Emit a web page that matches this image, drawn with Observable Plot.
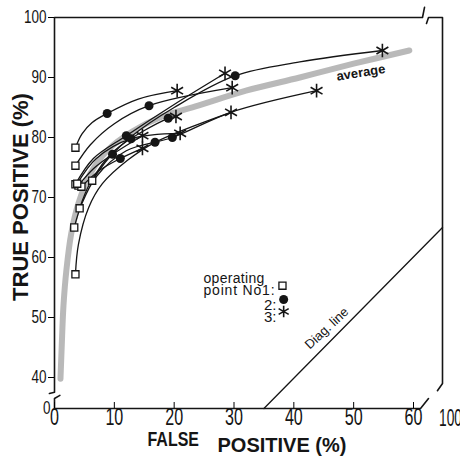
<!DOCTYPE html>
<html><head><meta charset="utf-8">
<script src="https://cdn.jsdelivr.net/npm/d3@7"></script>
<script src="https://cdn.jsdelivr.net/npm/@observablehq/plot@0.6"></script>
<style>body{margin:0;background:#fff}</style>
</head><body><div id="chart"></div>
<script>
// ---- tick labels ----
const xTicks = [0, 10, 20, 30, 40, 50, 60];
const xBreakTick = [100];
const yTicks = [40, 50, 60, 70, 80, 90, 100];
const yBreakTick = [0];

// ---- individual ROC curves: [false positive %, true positive %, operating point] ----
// "sq" = operating point 1, "ci" = 2, "as" = 3, "" = curve vertex only
const curve1 = [[3.5,78.3,"sq"],[4.6,80.6,""],[6.3,82.5,""],[8.8,84.0,"ci"],[14.0,86.4,""],[20.5,87.8,"as"]];
const curve2 = [[3.5,75.3,"sq"],[6.0,78.8,""],[10,82.3,""],[15.8,85.3,"ci"],[29.7,88.3,"as"]];
const curve3 = [[3.5,72.2,"sq"],[6.5,76.5,""],[12.0,80.3,"ci"],[20,85.5,""],[28.5,90.7,"as"]];
const curve4 = [[6.3,72.8,"sq"],[9,76.5,""],[13,80.3,""],[20,85,""],[30.2,90.3,"ci"],[41,92.6,""],[54.8,94.5,"as"]];
const curve5 = [[4.2,68.2,"sq"],[6,72.5,""],[10,77.8,""],[19.0,83.2,"ci"],[20.3,83.5,"as"]];
const curve6 = [[3.3,65.0,"sq"],[4.5,68.8,""],[7,73.5,""],[12,77.8,""],[19.7,80.0,"ci"],[29.5,84.2,""],[43.8,87.8,"as"]];
const curve7 = [[3.5,57.2,"sq"],[4.0,62.2,""],[5.7,68.3,""],[8,72.3,""],[12.2,76.2,""],[16.8,79.2,"ci"],[29.5,84.2,"as"]];
const curve8 = [[4.0,72.0,"sq"],[6.5,74.8,""],[9.7,77.2,"ci"],[14.7,80.3,"as"]];
const curve9 = [[4.5,71.8,"sq"],[7.5,74.5,""],[11,76.5,"ci"],[14.7,78.2,"as"]];
const curve10 = [[3.8,72.3,"sq"],[7,76.5,""],[12.8,79.8,"ci"],[21.0,80.7,"as"]];

// ---- average curve (thick grey band) ----
const averageCurve = [[1.0,38.5],[1.2,45],[1.5,52],[2.0,58],[2.8,64],[4,69],[6,74],[9,78],[13,81],[18,83.5],[24,85.3],[32,87.8],[41,90],[50,92.3],[59.3,94.5]];

// ---- diagonal line ----
const diagLine = [[35,0],[100,65]];

// ---- frame pieces with axis breaks ----
const frameUpper = [[-0.85,19.4],[0,21],[0,100],[72.4,100],[75.2,101.7]];
const frameRight = [[77.9,99],[80.7,100],[100,100],[100,32.3],[93,23]];
const frameLower = [[0.9,17],[0,12.9],[0,0],[69.7,0],[80.7,12.9]];

// ---- legend keys (operating points 1, 2, 3) ----
const legendSquare = [[38.1,55.3]];
const legendCircle = [[38.3,53.0]];
const legendAsterisk = [[38.3,51.0]];

const curves = [curve1,curve2,curve3,curve4,curve5,curve6,curve7,curve8,curve9,curve10];
const rows = curves.flatMap((c, i) => c.map(([x, y, m]) => ({x, y, m, id: i})));
const toXY = a => a.map(([x, y]) => ({x, y}));

const ink = "#151515";
const plot = Plot.plot({
  width: 460, height: 459,
  marginLeft: 54, marginRight: 18, marginTop: 17, marginBottom: 51,
  x: {type: "linear", domain: [0, 60, 100], range: [54, 413, 442]},
  y: {type: "linear", domain: [0, 40, 100], range: [408, 377, 17]},
  style: {fontFamily: "Liberation Sans, Arial, sans-serif", background: "white", overflow: "visible"},
  marks: [
    // frame
    Plot.line(toXY(frameUpper), {x: "x", y: "y", stroke: ink, strokeWidth: 1.6}),
    Plot.line(toXY(frameRight), {x: "x", y: "y", stroke: ink, strokeWidth: 1.6}),
    Plot.line(toXY(frameLower), {x: "x", y: "y", stroke: ink, strokeWidth: 1.6}),
    // axes
    Plot.axisY(yTicks, {anchor: "left", tickSize: 6, tickPadding: 2, fontSize: 18, fill: ink, label: null}),
    Plot.axisY(yBreakTick, {anchor: "left", tickSize: 0, tickPadding: 4, fontSize: 18, fill: ink, label: null}),
    Plot.axisX(xTicks, {anchor: "bottom", tickSize: -6, tickPadding: 6, fontSize: 23, fill: ink, label: null}),
    Plot.text(xBreakTick, {x: d => d, y: 0, dx: 8, dy: 1, lineAnchor: "top", text: d => String(d), fontSize: 23, fill: ink}),
    // axis titles
    Plot.text(["TRUE POSITIVE (%)"], {frameAnchor: "left", dx: -34, dy: -16, rotate: -90, textAnchor: "middle", fontSize: 22, fontWeight: "bold", fill: ink}),
    Plot.text(["FALSE"], {frameAnchor: "bottom-left", dx: 93, dy: 37, textAnchor: "start", fontSize: 21, fontWeight: "bold", fill: ink}),
    Plot.text(["POSITIVE (%)"], {frameAnchor: "bottom-left", dx: 163, dy: 43, textAnchor: "start", fontSize: 20, fontWeight: "bold", fill: ink}),
    // average band
    Plot.line(toXY(averageCurve), {x: "x", y: "y", curve: "catmull-rom", stroke: "#a8a8a8", strokeOpacity: 0.8, strokeWidth: 6}),
    Plot.text(["average"], {x: 51.2, y: 90.8, rotate: -9, fontSize: 13, fontWeight: "bold", fill: ink}),
    // diagonal
    Plot.line(toXY(diagLine), {x: "x", y: "y", stroke: ink, strokeWidth: 1.3}),
    Plot.text(["Diag. line"], {x: 45.5, y: 48.2, rotate: -43, fontSize: 13, fill: ink}),
    // ROC curves
    Plot.line(rows, {x: "x", y: "y", z: "id", curve: "catmull-rom", stroke: ink, strokeWidth: 1.3}),
    Plot.dot(rows.filter(d => d.m === "sq"), {x: "x", y: "y", symbol: "square", r: 4.0, fill: "white", stroke: ink, strokeWidth: 1.3}),
    Plot.dot(rows.filter(d => d.m === "ci"), {x: "x", y: "y", symbol: "circle", r: 4.5, fill: ink}),
    Plot.dot(rows.filter(d => d.m === "as"), {x: "x", y: "y", symbol: "asterisk", r: 6.5, stroke: ink, strokeWidth: 1.6}),
    // legend
    Plot.text(["operating"], {frameAnchor: "top-left", dx: 149, dy: 256, textAnchor: "start", fontSize: 14, fill: ink}),
    Plot.text(["point No1:"], {frameAnchor: "top-left", dx: 149, dy: 268, textAnchor: "start", fontSize: 14, fill: ink}),
    Plot.text(["2:"], {frameAnchor: "top-left", dx: 222, dy: 282, textAnchor: "end", fontSize: 15, fill: ink}),
    Plot.text(["3:"], {frameAnchor: "top-left", dx: 222, dy: 294, textAnchor: "end", fontSize: 15, fill: ink}),
    Plot.dot(legendSquare, {symbol: "square", r: 4.0, fill: "white", stroke: ink, strokeWidth: 1.3}),
    Plot.dot(legendCircle, {symbol: "circle", r: 4.5, fill: ink}),
    Plot.dot(legendAsterisk, {symbol: "asterisk", r: 5.5, stroke: ink, strokeWidth: 1.6})
  ]
});
document.getElementById("chart").append(plot);

// narrow the condensed lettering of the original, widen the legend spacing
function squeeze(t, s) {
  const tr = t.getAttribute("transform");
  if (tr) { t.setAttribute("transform", tr + ` scale(${s},1)`); return; }
  const x = +t.getAttribute("x") || 0, y = +t.getAttribute("y") || 0;
  t.removeAttribute("x"); t.removeAttribute("y");
  t.setAttribute("transform", `translate(${x},${y}) scale(${s},1)`);
}
plot.querySelectorAll("text").forEach(t => {
  const g = t.closest("g[aria-label]");
  const role = g ? g.getAttribute("aria-label") : "";
  const s = t.textContent;
  if (role === "x-axis tick label") squeeze(t, 0.7);
  else if (role === "y-axis tick label") squeeze(t, 0.75);
  else if (s === "100") squeeze(t, 0.6);
  else if (s === "FALSE") squeeze(t, 0.76);
  else if (s === "point No1:") t.style.letterSpacing = "0.8px";
  else if (s === "operating") t.style.letterSpacing = "0.3px";
});
</script>
</body></html>
